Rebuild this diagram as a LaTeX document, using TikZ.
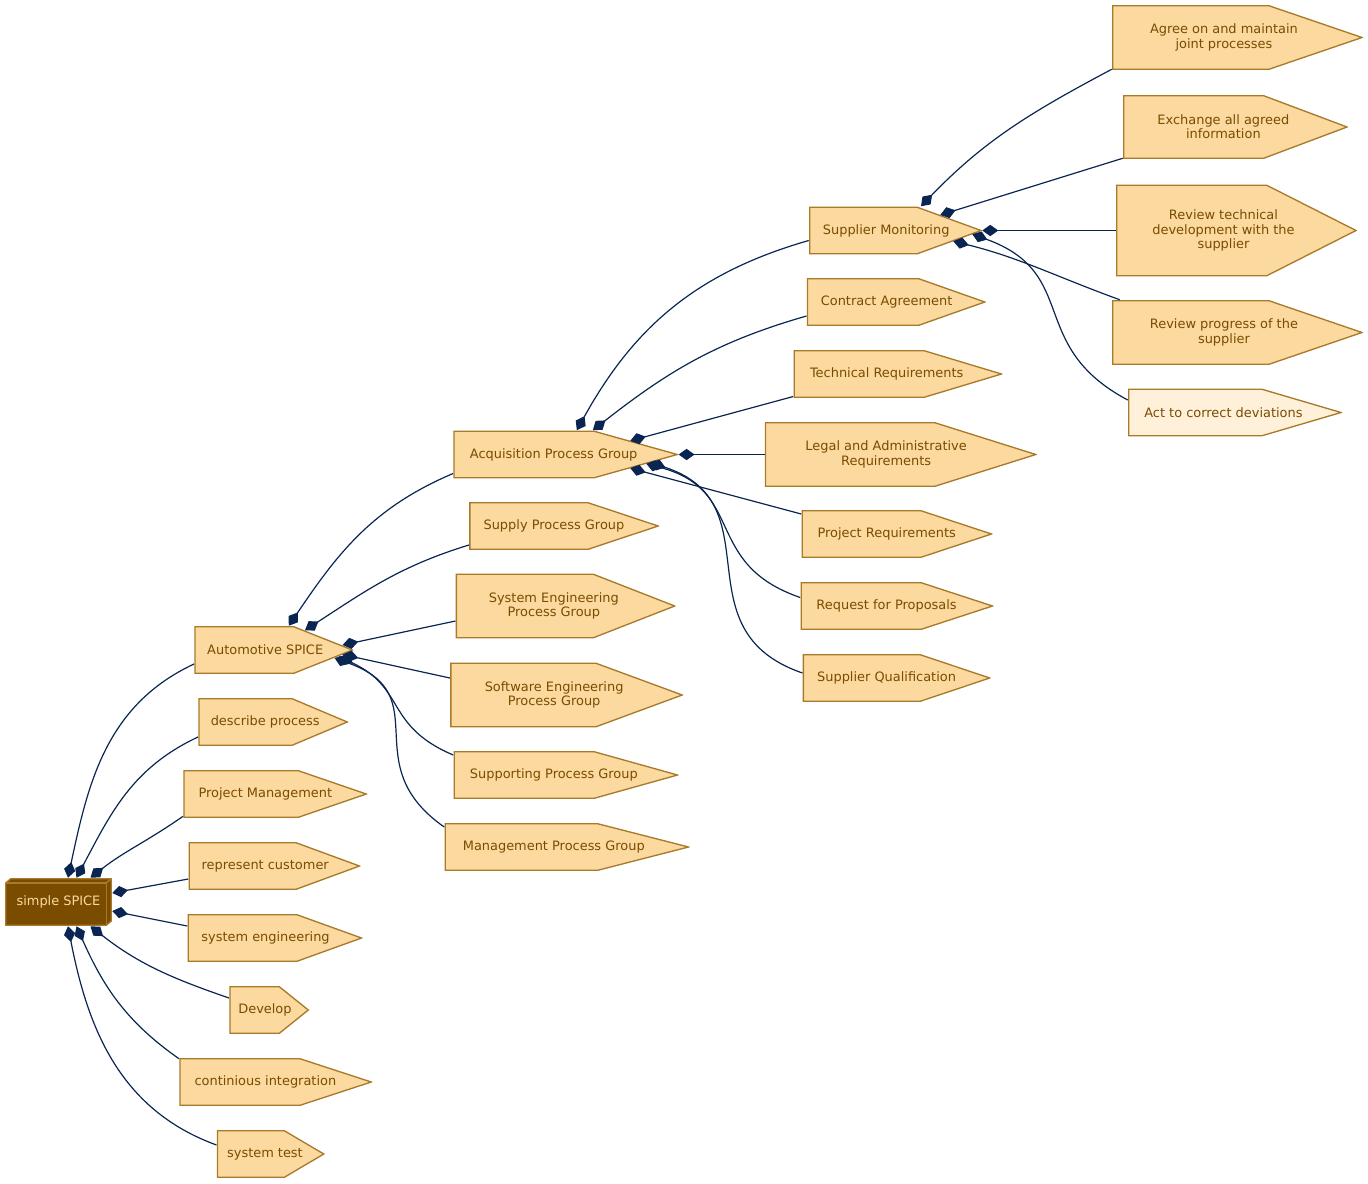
\documentclass[tikz,border=0pt]{standalone}
\usepackage{fontspec}
\setmainfont{DejaVu Sans}
\usetikzlibrary{arrows.meta,calc}

\definecolor{cdsfill}{RGB}{251,217,159}
\definecolor{actfill}{RGB}{255,240,217}
\definecolor{cdsline}{RGB}{168,122,42}
\definecolor{cdstext}{RGB}{122,76,0}
\definecolor{rootfill}{RGB}{122,76,0}
\definecolor{linkcol}{RGB}{10,37,82}

\tikzset{
  pentagon/.style={path picture={
    \path[fill=#1, draw=cdsline, line width=1pt]
      ($(path picture bounding box.north west)+(0.7,-0.7)$)
      -- ($(path picture bounding box.north west)!0.625!(path picture bounding box.north east)+(0,-0.7)$)
      -- ($(path picture bounding box.east)+(-1,0)$)
      -- ($(path picture bounding box.south west)!0.625!(path picture bounding box.south east)+(0,0.7)$)
      -- ($(path picture bounding box.south west)+(0.7,0.7)$) -- cycle;
  }},
  cdslabel/.style={path picture={}, text=cdstext, font=\fontsize{9.7}{10.7}\selectfont,
    align=center, inner sep=0pt},
  cds/.style n args={3}{rectangle, inner sep=0pt, minimum width=#1*0.75pt, minimum height=#2*0.75pt,
    pentagon=cdsfill, label={[cdslabel, xshift={-0.0405*#1*1pt}]center:{#3}}},
  root3d/.style={rectangle, inner sep=0pt, minimum width=107*0.75pt, minimum height=48*0.75pt,
    text=cdsfill, font=\fontsize{9.7}{10.7}\selectfont,
    path picture={
      \path[fill=rootfill, draw=cdsline, line width=1pt]
        ($(path picture bounding box.south west)+(0.7,0.7)$) -- ++(0,42.3) -- ++(5,4.3) -- ++(100.6,0)
        -- ++(0,-42.3) -- ++(-5,-4.3) -- cycle;
      \draw[cdsline, line width=1pt] ($(path picture bounding box.south west)+(0.7,43)$) -- ++(100.6,0) -- ++(0,-42.3);
      \draw[cdsline, line width=1pt] ($(path picture bounding box.south west)+(101.3,43)$) -- ++(5,4.3);
    }},
  link/.style={draw=linkcol, line width=0.9pt, {Diamond[length=12pt,width=8.5pt]}-},
}

\begin{document}
\begin{tikzpicture}[x=0.75pt, y=0.75pt]

\useasboundingbox (0,0) rectangle (1368,-1183);

% the root
\node[root3d] (root) at (58.5,-902) {simple SPICE};

% first column
\node[cds={159}{48}{Automotive SPICE}] (aspice) at (273.8,-650) {};
\node[cds={150}{48}{describe process}] (describe) at (273.3,-722) {};
\node[cds={184}{48}{Project Management}] (projmgmt) at (275.3,-794) {};
\node[cds={172}{48}{represent customer}] (customer) at (274.5,-866) {};
\node[cds={175}{48}{system engineering}] (syseng) at (275,-938) {};
\node[cds={80}{48}{Develop}] (develop) at (269.3,-1010) {};
\node[cds={193}{48}{continious integration}] (ci) at (275.8,-1082) {};
\node[cds={108}{48}{system test}] (systest) at (270.8,-1154) {};

% process groups
\node[cds={225}{48}{Acquisition Process Group}] (acq) at (565.8,-454.5) {};
\node[cds={190}{48}{Supply Process Group}] (supply) at (564.2,-526) {};
\node[cds={220}{65}{System Engineering\\Process Group}] (syspg) at (565.7,-606) {};
\node[cds={233}{65}{Software Engineering\\Process Group}] (swpg) at (566.7,-695) {};
\node[cds={225}{48}{Supporting Process Group}] (suppg) at (566,-775) {};
\node[cds={245}{48}{Management Process Group}] (mgmtpg) at (567,-847) {};

% acquisition processes
\node[cds={173}{48}{Supplier Monitoring}] (supmon) at (895.5,-230.5) {};
\node[cds={179}{48}{Contract Agreement}] (contract) at (896.3,-302) {};
\node[cds={209}{48}{Technical Requirements}] (techreq) at (898,-374) {};
\node[cds={272}{65}{Legal and Administrative\\Requirements}] (legal) at (900.8,-454.5) {};
\node[cds={191}{48}{Project Requirements}] (projreq) at (897,-534) {};
\node[cds={193}{48}{Request for Proposals}] (rfp) at (897,-606) {};
\node[cds={188}{48}{Supplier Qualification}] (supqual) at (896.7,-678) {};

% supplier monitoring practices
\node[cds={251}{65}{Agree on and maintain\\joint processes}] (agree) at (1237.5,-37.5) {};
\node[cds={225}{64}{Exchange all agreed\\information}] (exchange) at (1235.5,-127) {};
\node[cds={241}{92}{Review technical\\development with the\\supplier}] (revtech) at (1236.5,-230.5) {};
\node[cds={251}{65}{Review progress of the\\supplier}] (revprog) at (1237.5,-332.5) {};
\node[cds={214}{48}{Act to correct deviations}, pentagon=actfill] (act) at (1235,-412.5) {};

% links from the root
\draw[link] ($(root.north)+(9.5,0)$) to[out=78,in=205] ($(aspice.west)+(0,-14)$);
\draw[link] ($(root.north)+(18,0)$) to[out=62,in=205] ($(describe.west)+(0,-15)$);
\draw[link] ($(root.north)+(32,0)$) to[out=38,in=215] ($(projmgmt.south west)+(0,2)$);
\draw[link] ($(root.east)+(0,9)$) -- ($(customer.west)+(0,-13)$);
\draw[link] ($(root.east)+(0,-9)$) -- ($(syseng.west)+(0,12)$);
\draw[link] ($(root.south)+(32,0)$) to[out=-38,in=161] ($(develop.west)+(0,12)$);
\draw[link] ($(root.south)+(18,0)$) to[out=-66,in=145] ($(ci.north west)+(0,-1)$);
\draw[link] ($(root.south)+(9.5,0)$) to[out=-79,in=160] ($(systest.west)+(0,9)$);

% links from Automotive SPICE
\draw[link] ($(aspice.north)+(15,0)$) to[out=56,in=203] ($(acq.west)+(0,-19)$);
\draw[link] ($(aspice.north)+(31.2,-4.5)$) to[out=33,in=197] ($(supply.west)+(0,-19)$);
\draw[link] ($(aspice.east)+(-11,5)$) -- ($(syspg.west)+(0,-15)$);
\draw[link] ($(aspice.east)+(-11,-4.5)$) -- ($(swpg.west)+(0,17)$);
\draw[link] ($(aspice.east)+(-15,-6.5)$) to[out=-25,in=157,looseness=1.26] ($(suppg.west)+(0,20)$);
\draw[link] ($(aspice.east)+(-19,-8)$) to[out=-20,in=145,looseness=1.4] ($(mgmtpg.west)+(0,20)$);

% links from the acquisition group
\draw[link] ($(acq.north)+(11,0)$) to[out=61,in=196] ($(supmon.west)+(0,-10)$);
\draw[link] ($(acq.north)+(27,0)$) to[out=38,in=196] ($(contract.west)+(0,-14)$);
\draw[link] ($(acq.east)+(-48.3,13.7)$) -- ($(techreq.west)+(0,-22.5)$);
\draw[link] (acq.east) -- (legal.west);
\draw[link] ($(acq.east)+(-48.3,-13.7)$) -- ($(projreq.west)+(0,20)$);
\draw[link] ($(acq.east)+(-32.3,-9.2)$) to[out=-15,in=161,looseness=1.3] ($(rfp.west)+(0,8.5)$);
\draw[link] ($(acq.east)+(-28.3,-8)$) to[out=-18,in=161,looseness=1.3] ($(supqual.west)+(0,5)$);

% links from supplier monitoring
\draw[link] ($(supmon.north)+(25.5,0)$) to[out=46,in=208] ($(agree.south west)+(0,1)$);
\draw[link] ($(supmon.east)+(-42,15.5)$) -- ($(exchange.south west)+(0,1)$);
\draw[link] (supmon.east) -- (revtech.west);
\draw[link] ($(supmon.east)+(-29,-10.7)$) to[out=-14,in=160] ($(revprog.north west)+(8,0)$);
\draw[link] ($(supmon.east)+(-10,-3.6)$) to[out=-20,in=152,looseness=1.3] ($(act.west)+(0,12.5)$);

\end{tikzpicture}
\end{document}
